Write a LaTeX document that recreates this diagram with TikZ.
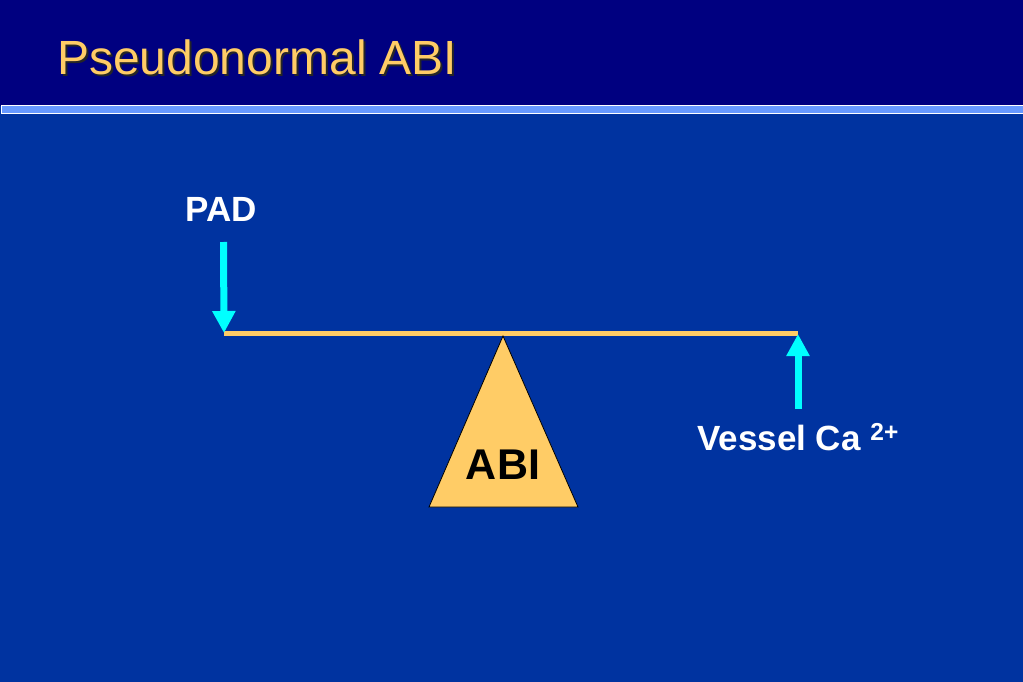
\documentclass[tikz,border=0pt]{standalone}
\usepackage{fontspec}
\setmainfont{Liberation Sans}
\usetikzlibrary{arrows.meta}
\definecolor{navy}{HTML}{000080}
\definecolor{slide}{HTML}{0033A0}
\definecolor{stripe}{HTML}{6699FF}
\definecolor{gold}{HTML}{FFCC66}
\definecolor{cyanarrow}{HTML}{00FFFF}
\tikzset{
  push/.style={line width=7pt, color=cyanarrow,
    -{Triangle[width=22pt,length=22pt]}},
  label/.style={text=white, font=\bfseries\fontsize{35}{40}\selectfont, inner sep=0pt}
}
\begin{document}
\begin{tikzpicture}[x=1pt,y=-1pt]

  \newcommand\SW{1023};
  \newcommand\SH{682};

  % background and title bar
  \fill[slide] (0,0) rectangle (\SW,\SH);
  \useasboundingbox (0,0) rectangle (\SW,\SH);
  \fill[navy] (0,0) rectangle (\SW,106);
  \draw[fill=stripe, draw=white, line width=1pt] (1,106) rectangle (\SW+5,113.5);

  \node[anchor=base west, inner sep=0pt, text=black!85,
    font=\fontsize{48}{56}\selectfont] at (59,77) {Pseudonormal ABI};
  \node (title)[anchor=base west, inner sep=0pt, text=gold,
    font=\fontsize{48}{56}\selectfont] at (57,75) {Pseudonormal ABI};

  % beam and fulcrum
  \coordinate (left) at (224,333);
  \coordinate (right) at (798,333);
  \draw[gold, line width=5pt] (left) -- (right);

  \coordinate (apex) at (503,336);
  \coordinate (baseR) at (578,507);
  \coordinate (baseL) at (429,507);
  \draw[fill=gold, draw=black, line width=0.8pt] (apex) -- (baseR) -- (baseL) -- cycle;
  \node (abi)[anchor=base, inner sep=0pt,
    font=\bfseries\fontsize{43}{48}\selectfont] at (503,479) {ABI};

  % forces
  \node (pad)[label, anchor=base] at (221,221) {PAD};
  \coordinate (padtop) at (223.5,242);
  \draw[push] (padtop) -- (left);

  \node (ca)[label, anchor=base west] at (697,450) {Vessel Ca \textsuperscript{2+}};
  \coordinate (cabot) at (798,409);
  \coordinate (catip) at (798,334);
  \draw[push] (cabot) -- (catip);

\end{tikzpicture}
\end{document}
